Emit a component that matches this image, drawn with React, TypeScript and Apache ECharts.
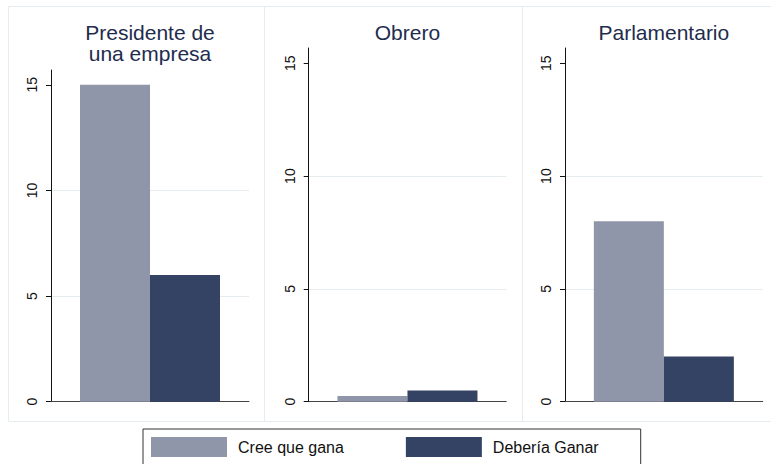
import React, { useEffect, useRef } from "react";
import * as echarts from "echarts";

const panels = ["Presidente de\nuna empresa", "Obrero", "Parlamentario"];
const seriesNames = ["Cree que gana", "Debería Ganar"];
const creeQueGana = [15, 0.25, 8];
const deberiaGanar = [6, 0.5, 2];
const yTicks = [0, 5, 10, 15];

const FONT = "'Liberation Sans', Arial, Helvetica, sans-serif";
const LIGHT = "#9096a9";
const DARK = "#344263";
const TITLE = "#1e2c4e";
const FRAME = "#e4ecef";

const grids = [
  { left: 51, top: 70, width: 198, height: 331.7, max: 15.7 },
  { left: 308.7, top: 48, width: 197.5, height: 353.7, max: 15.68 },
  { left: 565, top: 48, width: 197.7, height: 353.7, max: 15.68 },
];
const panelFrames = [
  { x: 8.5, w: 256 },
  { x: 264.5, w: 258 },
  { x: 522.5, w: 260 },
];

export default function App() {
  const ref = useRef<HTMLDivElement>(null);
  useEffect(() => {
    document.body.style.margin = "0";
    const chart = echarts.init(ref.current!, null, { renderer: "svg" });
    const option: any = {
      animation: false,
      backgroundColor: "#ffffff",
      textStyle: { fontFamily: FONT },
      grid: grids.map((g) => ({
        left: g.left,
        top: g.top,
        width: g.width,
        height: g.height,
        containLabel: false,
      })),
      xAxis: grids.map((g, i) => ({
        type: "category",
        gridIndex: i,
        data: [panels[i]],
        boundaryGap: true,
        axisLine: { show: true, lineStyle: { color: "#444", width: 1 } },
        axisTick: { show: false },
        axisLabel: { show: false },
        splitLine: { show: false },
      })),
      yAxis: grids.map((g, i) => ({
        type: "value",
        gridIndex: i,
        min: 0,
        max: g.max,
        interval: 5,
        axisLine: { show: true, onZero: false, lineStyle: { color: "#111", width: 1 } },
        axisTick: {
          show: true,
          length: 5,
          customValues: yTicks,
          lineStyle: { color: "#111" },
        },
        axisLabel: {
          show: true,
          customValues: yTicks,
          rotate: 90,
          margin: 12,
          fontSize: 14,
          color: "#111",
          fontFamily: FONT,
        },
        splitLine: {
          show: true,
          showMinLine: false,
          showMaxLine: false,
          lineStyle: { color: FRAME, width: 1 },
        },
      })),
      legend: {
        data: seriesNames,
        left: 143,
        top: 429,
        orient: "horizontal",
        icon: "rect",
        itemWidth: 76,
        itemHeight: 20,
        itemGap: 62,
        padding: [8, 42, 8, 8],
        borderColor: "#333",
        borderWidth: 1,
        backgroundColor: "#fff",
        itemStyle: { borderWidth: 0 },
        textStyle: {
          fontSize: 16,
          color: "#111",
          fontFamily: FONT,
          padding: [0, 0, 0, 6],
        },
      },
      graphic: [
        ...panelFrames.map((p) => ({
          type: "rect",
          z: -10,
          silent: true,
          shape: { x: p.x, y: 6.5, width: p.w, height: 415 },
          style: { fill: "none", stroke: FRAME, lineWidth: 1 },
        })),
        ...panels.map((t, i) => ({
          type: "text",
          silent: true,
          x: grids[i].left + grids[i].width / 2,
          y: 22,
          style: {
            text: t,
            fill: TITLE,
            font: `21px ${FONT}`,
            textAlign: "center",
            textVerticalAlign: "top",
            lineHeight: 21,
          },
        })),
      ],
      series: panels.flatMap((_, i) => [
        {
          type: "bar",
          name: seriesNames[0],
          xAxisIndex: i,
          yAxisIndex: i,
          data: [creeQueGana[i]],
          barWidth: 70,
          barGap: "0%",
          itemStyle: { color: LIGHT },
        },
        {
          type: "bar",
          name: seriesNames[1],
          xAxisIndex: i,
          yAxisIndex: i,
          data: [deberiaGanar[i]],
          barWidth: 70,
          barGap: "0%",
          itemStyle: { color: DARK },
        },
      ]),
    };
    chart.setOption(option);
    return () => chart.dispose();
  }, []);
  return <div ref={ref} style={{ width: 771, height: 464 }} />;
}
